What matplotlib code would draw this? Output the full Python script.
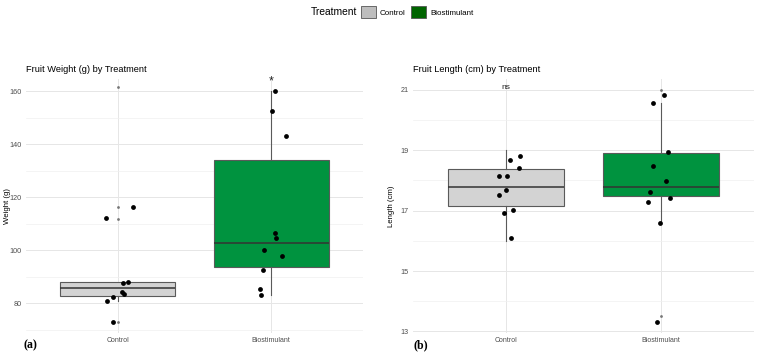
import matplotlib
matplotlib.use("Agg")
import matplotlib.pyplot as plt
from matplotlib.patches import Patch
from matplotlib.ticker import MultipleLocator

# ---------------- data ----------------
categories = ["Control", "Biostimulant"]

# Fruit weight (g) – jittered observations
weight_control = [112.0, 116.5, 88.0, 87.5, 84.1, 83.5, 82.4, 81.0, 73.0]
weight_control_jit = [-0.076, 0.102, 0.065, 0.037, 0.028, 0.039, -0.033, -0.072, -0.033]
weight_bio = [159.9, 152.7, 143.0, 106.5, 104.8, 100.0, 98.0, 92.4, 85.5, 83.0]
weight_bio_jit = [0.026, 0.009, 0.098, 0.028, 0.035, -0.046, 0.072, -0.052, -0.070, -0.067]

# Box statistics for weight: whislo, q1, med, q3, whishi, outliers
weight_box_control = [81.0, 82.7, 85.8, 87.9, 87.9]
weight_out_control = [161.7, 116.5, 111.8, 72.9]
weight_box_bio = [83.1, 93.6, 102.7, 133.9, 160.0]
weight_out_bio = []

# Fruit length (cm) – jittered observations
length_control = [18.81, 18.68, 18.41, 18.15, 18.14, 17.67, 17.51, 17.02, 16.92, 16.08]
length_control_jit = [0.088, 0.026, 0.084, -0.043, 0.009, -0.002, -0.047, 0.045, -0.011, 0.034]
length_bio = [20.81, 20.54, 18.94, 18.48, 17.99, 17.62, 17.40, 17.29, 16.60, 13.32]
length_bio_jit = [0.019, -0.052, 0.045, -0.052, 0.030, -0.071, 0.058, -0.082, -0.004, -0.028]

length_box_control = [16.0, 17.14, 17.78, 18.38, 19.01]
length_out_control = []
length_box_bio = [16.58, 17.49, 17.78, 18.89, 20.54]
length_out_bio = [21.0, 13.51]

weight_sig = "*"
weight_sig_y = 163.7
length_sig = "ns"
length_sig_y = 21.07

weight_ticks = [80, 100, 120, 140, 160]
length_ticks = [13, 15, 17, 19, 21]

# ---------------- style ----------------
plt.rcParams['font.family'] = ['Liberation Sans', 'DejaVu Sans']
box_fill = ["#D3D3D3", "#00933F"]
key_fill = ["#BEBEBE", "#006400"]
tick_col = "#4D4D4D"

fig = plt.figure(figsize=(7.6, 3.54), dpi=100)
W, H = 760, 354
ax1 = fig.add_axes([25.7 / W, (H - 333) / H, 337.3 / W, 254 / H])
ax2 = fig.add_axes([413 / W, (H - 333) / H, 341 / W, 254 / H])


def make_stats(box, outs, label):
    return dict(whislo=box[0], q1=box[1], med=box[2], q3=box[3], whishi=box[4],
                fliers=outs, label=label)


def panel(ax, boxes, outs, vals, jits, title, ylabel, ylim, ticks, minor, sig, sig_y, sig_x, sig_fs):
    stats = [make_stats(b, o, c) for b, o, c in zip(boxes, outs, categories)]
    bp = ax.bxp(stats, positions=[0, 1], widths=0.75, showcaps=False, patch_artist=True,
                boxprops=dict(edgecolor="#5A5A5A", linewidth=0.8),
                whiskerprops=dict(color="#5A5A5A", linewidth=0.8),
                medianprops=dict(color="#333333", linewidth=1.1),
                flierprops=dict(marker='o', markersize=2.0, markerfacecolor="#777777",
                                markeredgecolor="none"))
    for p, c in zip(bp['boxes'], box_fill):
        p.set_facecolor(c)
    for i, (v, j) in enumerate(zip(vals, jits)):
        ax.scatter([i + x for x in j], v, s=12, color="black", zorder=4, linewidths=0)
    ax.set_xlim(-0.6, 1.6)
    ax.set_ylim(*ylim)
    ax.set_yticks(ticks)
    ax.yaxis.set_minor_locator(MultipleLocator(minor))
    ax.set_xticks([0, 1])
    ax.set_xticklabels(categories)
    ax.grid(True, which='major', color="#E6E6E6", linewidth=0.7, zorder=0)
    ax.grid(True, which='minor', axis='y', color="#F0F0F0", linewidth=0.5, zorder=0)
    ax.set_axisbelow(True)
    for s in ax.spines.values():
        s.set_visible(False)
    ax.tick_params(which='both', length=0)
    ax.tick_params(axis='x', labelsize=5.0, labelcolor=tick_col, pad=3)
    ax.tick_params(axis='y', labelsize=5.2, labelcolor=tick_col, pad=3)
    ax.set_title(title, loc='left', fontsize=6.7, pad=5)
    ax.set_ylabel(ylabel, fontsize=5.6)
    ax.text(sig_x, sig_y, sig, ha='center', va='center', fontsize=sig_fs, color="#222222")


panel(ax1, [weight_box_control, weight_box_bio], [weight_out_control, weight_out_bio],
      [weight_control, weight_bio], [weight_control_jit, weight_bio_jit],
      "Fruit Weight (g) by Treatment", "Weight (g)", (68.8, 164.6), weight_ticks, 10,
      weight_sig, weight_sig_y, 1, 9)
panel(ax2, [length_box_control, length_box_bio], [length_out_control, length_out_bio],
      [length_control, length_bio], [length_control_jit, length_bio_jit],
      "Fruit Length (cm) by Treatment", "Length (cm)", (12.95, 21.35), length_ticks, 1,
      length_sig, length_sig_y, 0, 6)
ax1.yaxis.set_label_coords(-0.045, 0.5)
ax2.yaxis.set_label_coords(-0.054, 0.5)

# legend at top
fig.text(311 / W, 1 - 12 / H, "Treatment", fontsize=7.4, va='center', ha='left')
handles = [Patch(facecolor=c, edgecolor="#555555", linewidth=0.6) for c in key_fill]
fig.legend(handles, categories, ncol=2, frameon=False, fontsize=5.8,
           loc='center left', bbox_to_anchor=(361 / W, 1 - 12 / H),
           handlelength=1.8, handleheight=1.8, handletextpad=0.55, columnspacing=0.7,
           borderaxespad=0, borderpad=0)

# panel labels
fig.text(23 / W, 1 - 345 / H, "(a)", fontsize=8.5, fontweight='bold',
         family='Liberation Serif', va='center', ha='left')
fig.text(413 / W, 1 - 345 / H, "(b)", fontsize=8.5, fontweight='bold',
         family='Liberation Serif', va='center', ha='left')

fig.savefig("out.png", dpi=100)
